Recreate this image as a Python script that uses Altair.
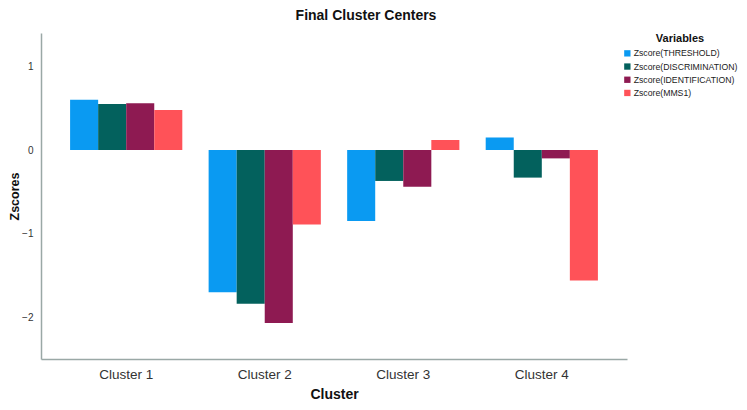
import altair as alt
import pandas as pd

clusters = ["Cluster 1", "Cluster 2", "Cluster 3", "Cluster 4"]
variables = ["Zscore(THRESHOLD)", "Zscore(DISCRIMINATION)", "Zscore(IDENTIFICATION)", "Zscore(MMS1)"]
threshold = [0.60, -1.70, -0.85, 0.15]
discrimination = [0.55, -1.84, -0.37, -0.33]
identification = [0.56, -2.07, -0.44, -0.10]
mms1 = [0.48, -0.89, 0.12, -1.56]
colors = ["#0a9af2", "#03615d", "#8e1a52", "#ff5258"]

series = [threshold, discrimination, identification, mms1]
rows = []
for v, vals in zip(variables, series):
    for c, val in zip(clusters, vals):
        rows.append({"Cluster": c, "Variable": v, "Value": val})
df = pd.DataFrame(rows)

font = "Liberation Sans"

chart = alt.Chart(df).mark_bar().encode(
    x=alt.X("Cluster:N", sort=clusters,
            scale=alt.Scale(paddingInner=0.19, paddingOuter=0.21),
            axis=alt.Axis(title="Cluster", labelAngle=0, ticks=False, domainColor="#9aa8a6",
                          domainWidth=1.5, labelFontSize=13.5, labelColor="#333333",
                          labelPadding=8, titleFontSize=14, titleFontWeight="bold",
                          titleColor="#111111", titlePadding=7)),
    xOffset=alt.XOffset("Variable:N", sort=variables,
                        scale=alt.Scale(paddingInner=0, paddingOuter=0)),
    y=alt.Y("Value:Q", scale=alt.Scale(domain=[-2.5, 1.4], nice=False, zero=True),
            axis=alt.Axis(title="Zscores", values=[-2, -1, 0, 1], ticks=False, grid=False,
                          domainColor="#9aa8a6", domainWidth=1.5, labelFontSize=10,
                          labelColor="#333333", labelPadding=8, titleFontSize=12.5,
                          titleFontWeight="bold", titleColor="#111111", titlePadding=0)),
    color=alt.Color("Variable:N", sort=variables,
                    scale=alt.Scale(domain=variables, range=colors),
                    legend=alt.Legend(title="Variables", orient="none", legendX=582, legendY=0,
                                      symbolType="square", symbolSize=40, symbolStrokeWidth=0,
                                      labelFontSize=8.7, labelColor="#222222", titleFontSize=11,
                                      titleFontWeight="bold", titleColor="#111111",
                                      titleAnchor="middle", rowPadding=3.2, labelOffset=2,
                                      titlePadding=5, labelLimit=200)),
).properties(
    width=586, height=326,
    title=alt.TitleParams("Final Cluster Centers", fontSize=14, fontWeight="bold",
                          color="#111111", anchor="middle", dx=32, offset=10),
    autosize=alt.AutoSizeParams(type="none"),
    padding={"left": 33, "top": 25, "right": 112, "bottom": 43},
).configure(font=font).configure_view(stroke=None)

chart.save("out.html", embed_options={"renderer": "svg", "actions": False})
